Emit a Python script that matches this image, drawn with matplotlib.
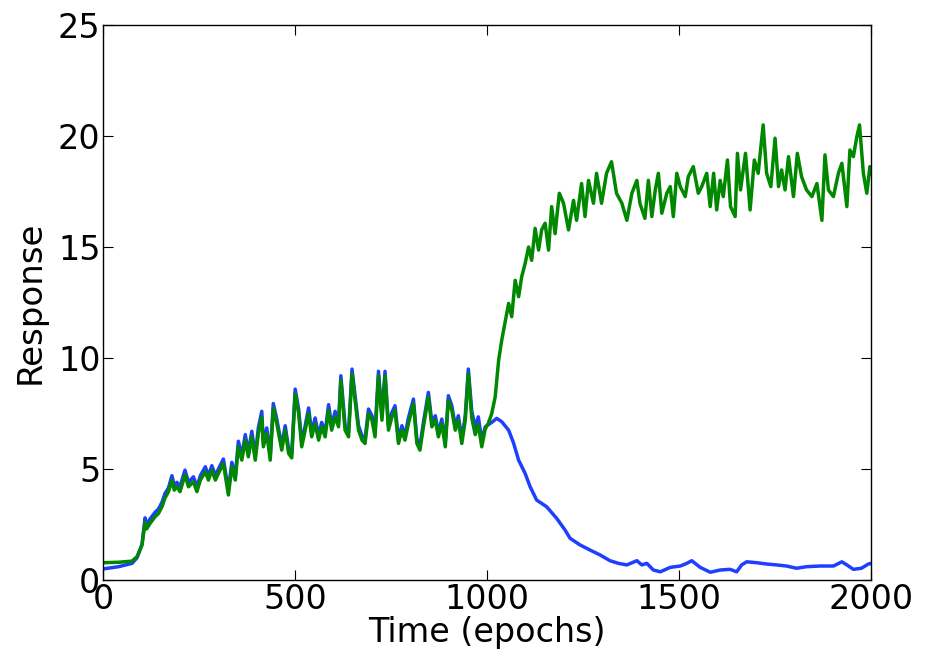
import matplotlib
matplotlib.use("Agg")
import matplotlib.pyplot as plt

# Значения (эпоха, отклик)
epochs_early = [0, 40, 75, 88, 101, 109, 113, 122, 135, 144, 153, 161, 170, 179, 185,
                192, 200, 213, 222, 235, 244, 253, 266, 274, 283, 292, 300, 313, 326, 335,
                344, 352, 361, 370, 378, 387, 396, 404, 413, 417, 426, 435, 443, 452, 465,
                474, 483, 491, 500, 509, 517, 526, 535, 543, 552, 561, 569, 578, 587, 595,
                604, 613, 619, 630, 639, 648, 656, 665, 674, 682, 691, 700, 708, 717, 726,
                734, 743, 752, 760, 769, 778, 786, 795, 808, 817, 825, 834, 847, 856, 865,
                873, 882, 891, 899, 908, 917, 925, 934, 943, 951]
green_early = [0.78, 0.8, 0.85, 1.05, 1.58, 2.6, 2.3, 2.55, 2.85, 3.0, 3.3, 3.7, 3.98, 4.5, 4.05,
               4.2, 3.98, 4.73, 4.2, 4.43, 3.98, 4.5, 4.88, 4.5, 4.95, 4.5, 4.8, 5.25, 3.83, 5.1,
               4.5, 6.0, 5.4, 6.3, 5.55, 6.45, 5.4, 6.6, 7.35, 6.0, 6.6, 5.4, 7.73, 7.05, 5.85,
               6.75, 5.7, 5.5, 8.4, 7.5, 6.0, 6.75, 7.5, 6.45, 7.05, 6.3, 6.9, 6.45, 7.65, 6.75,
               7.35, 6.9, 9.0, 6.75, 6.45, 9.3, 8.1, 6.75, 6.3, 6.15, 7.5, 7.2, 6.45, 9.2, 7.2,
               9.2, 6.75, 7.35, 7.65, 6.15, 6.75, 6.3, 7.05, 7.95, 6.15, 5.85, 6.9, 8.25, 6.9, 7.2,
               6.45, 7.05, 6.0, 8.1, 7.65, 6.75, 7.2, 6.15, 7.2, 9.3]
blue_early = [0.5, 0.6, 0.75, 1.0, 1.6, 2.8, 2.5, 2.75, 3.05, 3.2, 3.5, 3.9, 4.15, 4.7, 4.25,
              4.4, 4.2, 4.95, 4.4, 4.65, 4.2, 4.7, 5.1, 4.7, 5.15, 4.7, 5.0, 5.45, 4.05, 5.3,
              4.7, 6.25, 5.6, 6.55, 5.75, 6.7, 5.6, 6.85, 7.6, 6.2, 6.85, 5.6, 7.95, 7.25, 6.05,
              6.95, 5.9, 5.7, 8.6, 7.7, 6.2, 6.95, 7.75, 6.65, 7.3, 6.5, 7.1, 6.65, 7.9, 6.95,
              7.6, 7.1, 9.2, 6.95, 6.65, 9.5, 8.3, 6.95, 6.5, 6.35, 7.7, 7.4, 6.65, 9.4, 7.4,
              9.4, 6.95, 7.55, 7.85, 6.35, 6.95, 6.5, 7.3, 8.15, 6.35, 6.05, 7.1, 8.45, 7.1, 7.4,
              6.65, 7.25, 6.2, 8.3, 7.85, 6.95, 7.4, 6.35, 7.4, 9.5]

epochs_blue_late = [960, 969, 977, 986, 995, 1003, 1012, 1025, 1038, 1056, 1069, 1082, 1099,
                    1112, 1129, 1155, 1181, 1203, 1216, 1242, 1268, 1294, 1320, 1342, 1364,
                    1390, 1403, 1416, 1433, 1451, 1477, 1503, 1520, 1533, 1555, 1581, 1607,
                    1633, 1650, 1663, 1676, 1702, 1728, 1754, 1780, 1806, 1832, 1867, 1902,
                    1924, 1937, 1954, 1975, 1993, 2000]
blue_late = [7.6, 6.9, 7.35, 6.3, 6.9, 7.0, 7.1, 7.28, 7.13, 6.75, 6.16, 5.4, 4.8,
             4.2, 3.6, 3.3, 2.78, 2.25, 1.88, 1.58, 1.35, 1.13, 0.87, 0.75, 0.68,
             0.87, 0.68, 0.75, 0.45, 0.37, 0.57, 0.63, 0.75, 0.87, 0.57, 0.35, 0.45,
             0.48, 0.37, 0.68, 0.82, 0.78, 0.72, 0.68, 0.63, 0.53, 0.6, 0.63, 0.63,
             0.82, 0.68, 0.48, 0.53, 0.72, 0.75]

epochs_green_late = [960, 969, 977, 986, 995, 1003, 1012, 1021, 1025, 1030, 1034, 1038, 1043,
                     1056, 1064, 1073, 1082, 1090, 1099, 1108, 1116, 1125, 1134, 1142, 1151,
                     1160, 1168, 1177, 1188, 1199, 1212, 1225, 1233, 1246, 1255, 1264, 1277,
                     1285, 1298, 1311, 1324, 1337, 1351, 1364, 1377, 1390, 1398, 1411, 1420,
                     1429, 1438, 1446, 1455, 1468, 1477, 1485, 1494, 1503, 1516, 1524, 1537,
                     1550, 1559, 1572, 1581, 1590, 1598, 1607, 1615, 1626, 1634, 1646, 1652,
                     1660, 1673, 1685, 1696, 1706, 1719, 1728, 1739, 1750, 1759, 1767, 1776,
                     1785, 1798, 1808, 1819, 1832, 1846, 1859, 1872, 1880, 1889, 1902, 1915,
                     1924, 1937, 1945, 1954, 1963, 1970, 1980, 1989, 1997, 2000]
green_late = [7.3, 6.55, 7.0, 6.0, 6.8, 7.05, 7.5, 8.25, 9.0, 9.9, 10.36, 10.8, 11.26,
              12.46, 11.86, 13.5, 12.76, 13.66, 14.26, 15.0, 14.4, 15.84, 14.86, 15.77, 16.07,
              14.86, 16.82, 15.6, 17.42, 16.97, 15.77, 17.1, 16.2, 17.86, 16.37, 18.0, 16.97,
              18.32, 16.97, 18.32, 18.84, 17.42, 16.97, 16.2, 17.42, 18.0, 16.97, 16.29, 18.0,
              16.37, 17.57, 18.32, 16.52, 17.42, 17.72, 16.37, 18.32, 17.72, 17.27, 18.17, 18.62,
              17.42, 17.72, 18.32, 16.82, 18.32, 16.67, 18.0, 17.27, 18.92, 16.82, 16.37, 19.22,
              17.57, 19.22, 16.67, 18.92, 18.32, 20.5, 18.32, 17.72, 19.9, 17.72, 18.47, 17.57,
              19.07, 17.27, 19.22, 18.17, 17.57, 17.27, 17.86, 16.2, 19.15, 17.57, 17.27, 18.32,
              18.77, 16.82, 19.37, 19.07, 19.97, 20.5, 18.32, 17.42, 18.62, 18.3]

x_blue = epochs_early + epochs_blue_late
y_blue = blue_early + blue_late
x_green = epochs_early + epochs_green_late
y_green = green_early + green_late

plt.rcParams['font.family'] = ['DejaVu Sans']
fig = plt.figure(figsize=(9.3, 6.49), dpi=100)
ax = fig.add_axes([0.111, 0.1063, 0.8256, 0.8552])

ax.plot(x_blue, y_blue, color='#1f3fff', linewidth=2.5)
ax.plot(x_green, y_green, color='#008800', linewidth=2.5)

ax.set_xlim(0, 2000)
ax.set_ylim(0, 25)
ax.set_xticks([0, 500, 1000, 1500, 2000])
ax.set_yticks([0, 5, 10, 15, 20, 25])
ax.tick_params(direction='in', top=True, right=True, length=7, width=0.8, labelsize=24)
ax.tick_params(axis='x', pad=2)
ax.tick_params(axis='y', pad=2)
for s in ax.spines.values():
    s.set_linewidth(1.0)

ax.set_xlabel("Time (epochs)", fontsize=24, labelpad=0)
ax.set_ylabel("Response", fontsize=24.5, labelpad=8)

fig.savefig('out.png', dpi=100)
